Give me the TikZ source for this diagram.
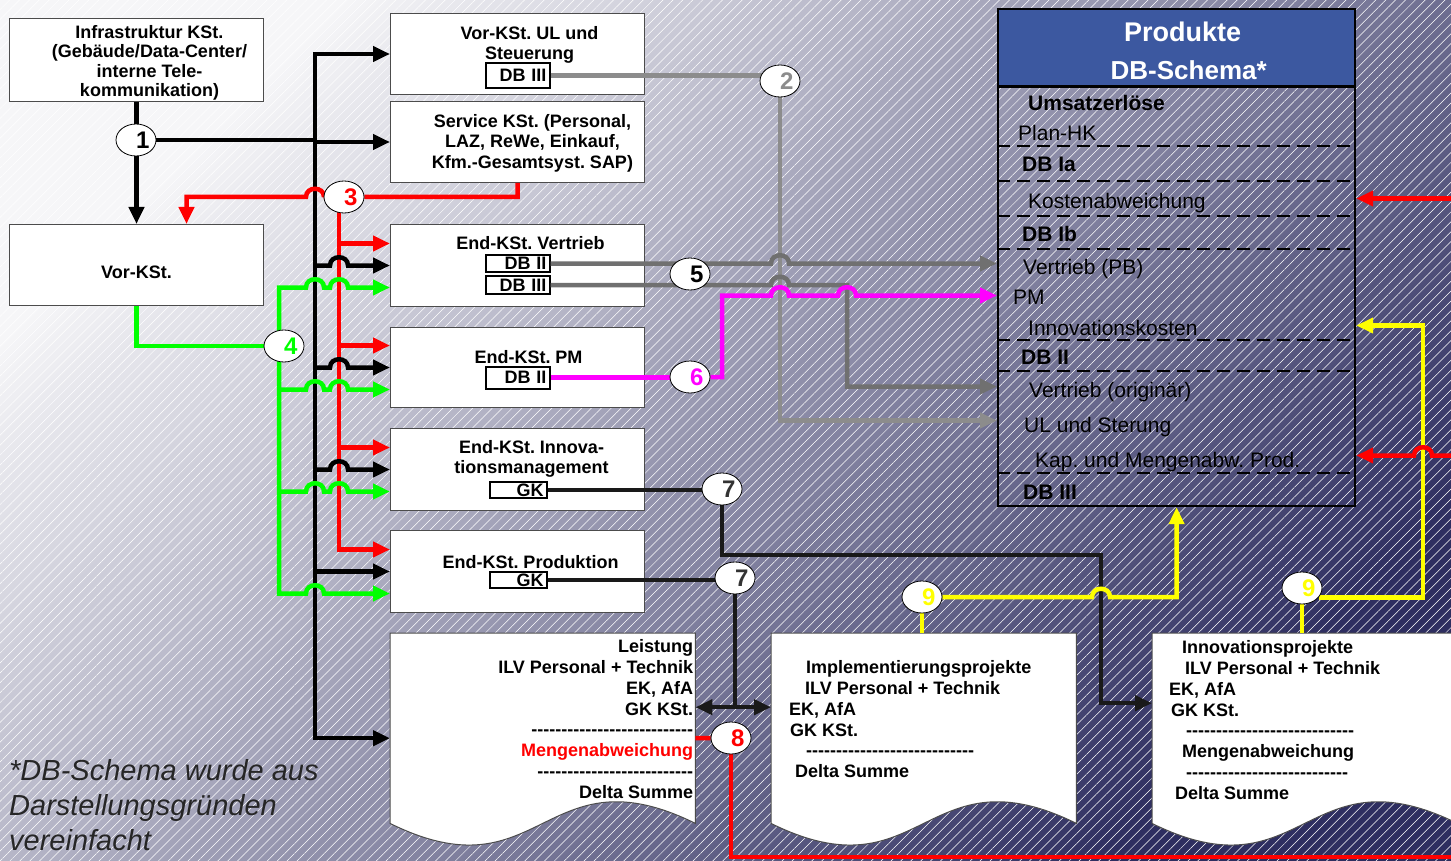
\documentclass[tikz,border=0pt]{standalone}
\usepackage{fontspec}
\setmainfont{Liberation Sans}
\usepackage{xcolor}
\usepackage{tikz}
\usetikzlibrary{positioning, arrows.meta, calc, shapes.geometric, patterns.meta}
\frenchspacing
\definecolor{kblue}{RGB}{60,88,160}
\definecolor{kgreen}{RGB}{0,255,0}
\definecolor{kred}{RGB}{255,0,0}
\definecolor{kmag}{RGB}{255,0,255}
\definecolor{kyellow}{RGB}{255,255,0}
\definecolor{kgrey}{RGB}{112,112,112}
\definecolor{klgrey}{RGB}{140,140,140}
\definecolor{kdark}{RGB}{25,25,25}
\definecolor{bgtop}{RGB}{246,246,248}
\definecolor{bgmid}{RGB}{192,192,207}
\definecolor{bgbot}{RGB}{46,46,96}
\pgfdeclarelayer{bg}
\pgfdeclarelayer{wires}
\pgfdeclarelayer{front}
\pgfsetlayers{bg,main,wires,front}
\newcommand{\hopR}[1]{-- ($(#1)+(-9,0)$) .. controls +(0,-11) and +(0,-11) .. ($(#1)+(9,0)$)}
\newcommand{\hopL}[1]{-- ($(#1)+(9,0)$) .. controls +(0,-11) and +(0,-11) .. ($(#1)+(-9,0)$)}
\newcommand{\docpath}[1]{(#1.north west) -- (#1.north east) -- (#1.south east) .. controls +(-152,-75) and +(152,75) .. (#1.south west) -- cycle}
\newcommand{\dashrow}[1]{\foreach \dd in {1,...,#1}{-\kern0pt}}

\begin{document}
\begin{tikzpicture}[x=1pt, y=-1pt,
        every node/.style={inner sep=0pt, font=\bfseries\fontsize{18}{20.5}\selectfont},
        box/.style={draw=black!70, line width=1pt, fill=white, anchor=north west, minimum width=254pt, minimum height=82pt},
        dbb/.style={draw, line width=2pt, fill=white, text width=58pt, align=right, inner xsep=3pt, minimum height=18pt},
        doc/.style={anchor=north west, minimum width=305pt, minimum height=190pt},
        doctxt/.style={font=\bfseries\fontsize{18}{20.8}\selectfont},
        num/.style={ellipse, draw, line width=0.8pt, fill=white, minimum width=40pt, minimum height=32pt, text width=27pt, align=right, font=\bfseries\fontsize{24}{24}\selectfont},
        row/.style={anchor=base west, font=\fontsize{21}{21}\selectfont},
        rowb/.style={anchor=base west, font=\bfseries\fontsize{21}{21}\selectfont},
        sep/.style={line width=2.4pt, dash pattern=on 13pt off 7pt},
        ln/.style={line width=4.5pt},
        arr/.style={ln, -{Triangle[length=17pt, width=15pt]}},
        darr/.style={ln, {Triangle[length=17pt, width=15pt]}-{Triangle[length=17pt, width=15pt]}}]
      \useasboundingbox (0,0) rectangle (1451,861);
      \begin{pgfonlayer}{bg}
        \shade[top color=bgtop, middle color=bgmid, bottom color=bgbot, shading angle=45] (0,0) rectangle (1451,861);
        \fill[pattern={Lines[angle=45, distance=7pt, line width=0.5pt]}, pattern color=white, fill opacity=0.12] (0,0) rectangle (1451,861);
      \end{pgfonlayer}

      \node[box, minimum height=83pt] (infra) at (9,18) {};
      \node[align=center, font=\bfseries\fontsize{18}{19.5}\selectfont] at ($(infra.center)+(13,3)$) {Infrastruktur KSt.\\(Gebäude/Data-Center/\\interne Tele-\\kommunikation)};
      \node[box, minimum height=81pt] (vk) at (9,224) {};
      \node at ($(vk.center)+(0,7)$) {Vor-KSt.};

      \node[box, minimum height=81pt] (vu) at (390,13) {};
      \node[dbb, minimum height=25pt] (vudb) at ($(vu.north)+(0,62.5)$) {DB III};
      \node[align=center] at ($(vu.north)+(12,32)$) {Vor-KSt. UL und\\Steuerung};
      \node[box, minimum height=81pt] (svc) at (390,101) {};
      \node[align=center] at ($(svc.north)+(15,42)$) {Service KSt. (Personal,\\LAZ, ReWe, Einkauf,\\Kfm.-Gesamtsyst. SAP)};
      \node[box] (vt) at (390,224) {};
      \node at ($(vt.north)+(13,19)$) {End-KSt. Vertrieb};
      \node[dbb, minimum height=17pt] (vtdb2) at ($(vt.north)+(0,39.5)$) {DB II};
      \node[dbb, minimum height=18pt] (vtdb3) at ($(vt.north)+(0,61)$) {DB III};
      \node[box, minimum height=80pt] (pm) at (390,327) {};
      \node at ($(pm.north)+(11,30)$) {End-KSt. PM};
      \node[dbb, minimum height=22pt] (pmdb) at ($(pm.north)+(0,50.5)$) {DB II};
      \node[box] (im) at (390,428) {};
      \node[dbb, text width=51pt, minimum height=16pt] (imgk) at ($(im.north)+(0.5,62)$) {GK\hspace*{6pt}};
      \node[align=center] at ($(im.north)+(14,31)$) {End-KSt. Innova-\\tionsmanagement};
      \node[box] (pd) at (390,530) {};
      \node at ($(pd.north)+(13,32)$) {End-KSt. Produktion};
      \node[dbb, text width=51pt, minimum height=16pt] (pdgk) at ($(pd.north)+(0.5,50)$) {GK\hspace*{6pt}};

      \node[doc] (lst) at (390,633) {};
      \node[doc] (impl) at (771,633) {};
      \node[doc] (inno) at (1152,633) {};
      \foreach \d in {lst,impl,inno}
        \filldraw[fill=white, draw=black!70, line width=1pt] \docpath{\d};
      \node[doctxt, anchor=north east, align=right] (lsttx) at ($(lst.north east)+(-2,6.5)$) {Leistung\\ILV Personal + Technik\\EK, AfA\\GK KSt.\\\dashrow{27}\\\textcolor{kred}{Mengenabweichung}\\\dashrow{26}\\Delta Summe};
      \node[doctxt, anchor=north west, align=left] (impltx) at ($(impl.north west)+(18,27.5)$) {\hspace*{17pt}Implementierungsprojekte\\\hspace*{16pt}ILV Personal + Technik\\EK, AfA\\\hspace*{1pt}GK KSt.\\\hspace*{17pt}\dashrow{28}\\\hspace*{6pt}Delta Summe};
      \node[doctxt, anchor=north west, align=left] (innotx) at ($(inno.north west)+(17,7.5)$) {\hspace*{13pt}Innovationsprojekte\\\hspace*{16pt}ILV Personal + Technik\\EK, AfA\\\hspace*{2pt}GK KSt.\\\hspace*{17pt}\dashrow{28}\\\hspace*{13pt}Mengenabweichung\\\hspace*{17pt}\dashrow{27}\\\hspace*{6pt}Delta Summe};

      \node[fill=kblue, anchor=north west, minimum width=357pt, minimum height=78pt] (hdr) at (997,8) {};
      \node[draw, line width=2.2pt, anchor=north west, minimum width=357pt, minimum height=497pt] (tab) at (997,8) {};
      \draw[line width=2.6pt] (hdr.south west) -- (hdr.south east);
      \node[text=white, font=\bfseries\fontsize{27}{27}\selectfont] at ($(hdr.north)+(7,24)$) {Produkte};
      \node[text=white, font=\bfseries\fontsize{26}{26}\selectfont] at ($(hdr.north)+(13,62)$) {DB-Schema*};
      \node[rowb] (ums) at (1028,110.5) {Umsatzerlöse};
      \node[row] (plan) at (1018,140.5) {Plan-HK};
      \node[rowb] (dbia) at (1022,171.5) {DB Ia};
      \node[row] (kost) at (1028,208.5) {Kostenabweichung};
      \node[rowb] (dbib) at (1022,241.5) {DB Ib};
      \node[row] (vpb) at (1023,274.5) {Vertrieb (PB)};
      \node[row] (pmr) at (1013,304.5) {PM};
      \node[row] (inn) at (1028,335.5) {Innovationskosten};
      \node[rowb] (dbii) at (1021,364.5) {DB II};
      \node[row] (vor) at (1029,397.5) {Vertrieb (originär)};
      \node[row] (ulr) at (1024,432.5) {UL und Sterung};
      \node[row] (kap) at (1035,467.5) {Kap. und Mengenabw. Prod.};
      \node[rowb] (dbiii) at (1023,499.5) {DB III};
      \foreach \yy in {146,181,216,249,340,371,473}
        \draw[sep] (tab.west |- 0,\yy) -- (tab.east |- 0,\yy);

      \begin{pgfonlayer}{front}
        \node[num] (n1) at (136,140) {1};
        \node[num, text=klgrey] (n2) at (780,81) {2};
        \node[num, text=kred] (n3) at (344,197) {3};
        \node[num, text=kgreen] (n4) at (284,346) {4};
        \node[num] (n5) at (690,274) {5};
        \node[num, text=kmag] (n6) at (690,377) {6};
        \node[num, text=black!80] (n7a) at (722,489) {7};
        \node[num, text=black!80] (n7b) at (735,578) {7};
        \node[num, text=kred] (n8) at (731,738) {8};
        \node[num, text=kyellow] (n9a) at (922,597) {9};
        \node[num, text=kyellow] (n9b) at (1302,588) {9};
      \end{pgfonlayer}

      \node[anchor=north west, align=left, text=black!85, font=\itshape\fontsize{29}{35}\selectfont] (fn) at (9,759) {*DB-Schema wurde aus\\Darstellungsgründen\\vereinfacht};

      \coordinate (kbus) at (315,0);
      \coordinate (rbus) at (339,0);
      \coordinate (gbus) at (279,0);
      \coordinate (gx) at (847,0);
      \coordinate (k7) at (1101,555);
      \coordinate (yr) at (1423,0);
      \coordinate (rb) at (1468,857);
      \coordinate (mx) at ($(n6)+(32,0)$);
      \coordinate (lstK) at ($(lst.west)+(0,10)$);
      \coordinate (lstD) at ($(lst.east)+(0,-21)$);
      \coordinate (lstM) at ($(lst.east)+(0,10)$);
      \coordinate (tPM) at ($(tab.west |- pmr.base)+(0,-9)$);
      \coordinate (tUL) at ($(tab.west |- ulr.base)+(0,-12)$);
      \coordinate (tVor) at ($(tab.west |- vor.base)+(0,-11)$);
      \coordinate (tKost) at ($(tab.east |- kost.base)+(0,-10)$);
      \coordinate (tInn) at ($(tab.east |- inn.base)+(0,-10)$);
      \coordinate (tKap) at ($(tab.east |- kap.base)+(0,-12)$);
      \foreach \b in {vt,pm,im,pd}{
        \coordinate (\b R) at ($(\b.west)+(0,-22)$);
        \coordinate (\b G) at ($(\b.west)+(0,22)$);
      }

      \begin{pgfonlayer}{wires}
        \draw[arr] (infra.south) -- (vk.north);
        \draw[ln] (n1) -- (kbus |- n1);
        \draw[darr] (vu.west) -- (kbus |- vu.west) -- (kbus |- lstK) -- (lstK);
        \draw[arr] (kbus |- svc.west) -- (svc.west);
        \draw[arr] (kbus |- pd.west) -- (pd.west);

        \draw[arr, kred] (n3) -| (rbus |- pdR) -- (pdR);
        \foreach \b in {vt,pm,im}
          \draw[arr, kred] (rbus |- \b R) -- (\b R);
        \draw[arr, kred] (svc.south) |- (n3) \hopL{kbus |- n3} -| ($(vk.north)+(50,0)$);

        \foreach \b in {vt,pm,im}
          \draw[arr] (kbus |- \b.west) \hopR{rbus |- \b.west} -- (\b.west);

        \draw[ln, kgreen] (vk.south) |- (n4);
        \draw[darr, kgreen] (vtG) \hopL{rbus |- vtG} \hopL{kbus |- vtG} -- (gbus |- vtG) -- (gbus |- pdG) \hopR{kbus |- pdG} -- (pdG);
        \foreach \b in {pm,im}
          \draw[arr, kgreen] (gbus |- \b G) \hopR{kbus |- \b G} \hopR{rbus |- \b G} -- (\b G);

        \draw[ln, klgrey] (vudb.east) -- (vudb.east -| n2);
        \draw[arr, klgrey] (n2) |- (tUL);
        \draw[arr, kgrey] (vtdb2.east) \hopR{n2 |- vtdb2} -- (tab.west |- vtdb2);
        \draw[arr, kgrey] (vtdb3.east) \hopR{n2 |- vtdb3} -- (gx |- vtdb3) |- (tVor);
        \draw[ln, kmag] (pmdb.east) -- (pmdb.east -| n6);
        \draw[arr, kmag] (n6) -| (mx |- tPM) \hopR{n2 |- tPM} \hopR{gx |- tPM} -- (tPM);

        \draw[ln, kdark] (imgk.east) -- (imgk.east -| n7a);
        \draw[arr, kdark] (n7a) |- (k7) |- ($(inno.west)+(0,-25)$);
        \draw[ln, kdark] (pdgk.east) -- (pdgk.east -| n7b);
        \draw[ln, kdark] (n7b) -- (n7b |- lstD);
        \draw[darr, kdark] (lstD) -- (impl.west |- lstD);

        \draw[ln, kyellow] (n9a) -- (n9a |- impl.north);
        \draw[arr, kyellow] (n9a) \hopR{k7 |- n9a} -| (tab.south);
        \draw[ln, kyellow] (n9b) -- (n9b |- inno.north);
        \draw[arr, kyellow] (n9b.-30) -| (yr |- tInn) -- (tInn);

        \draw[ln, kred] (lstM) -- (n8);
        \draw[ln, kred] (n8) |- (rb);
        \draw[arr, kred] (rb) -- (rb |- tKap) \hopL{yr |- tKap} -- (tKap);
        \draw[arr, kred] (rb |- tKost) -- (tKost);
      \end{pgfonlayer}
    \end{tikzpicture}
\end{document}
